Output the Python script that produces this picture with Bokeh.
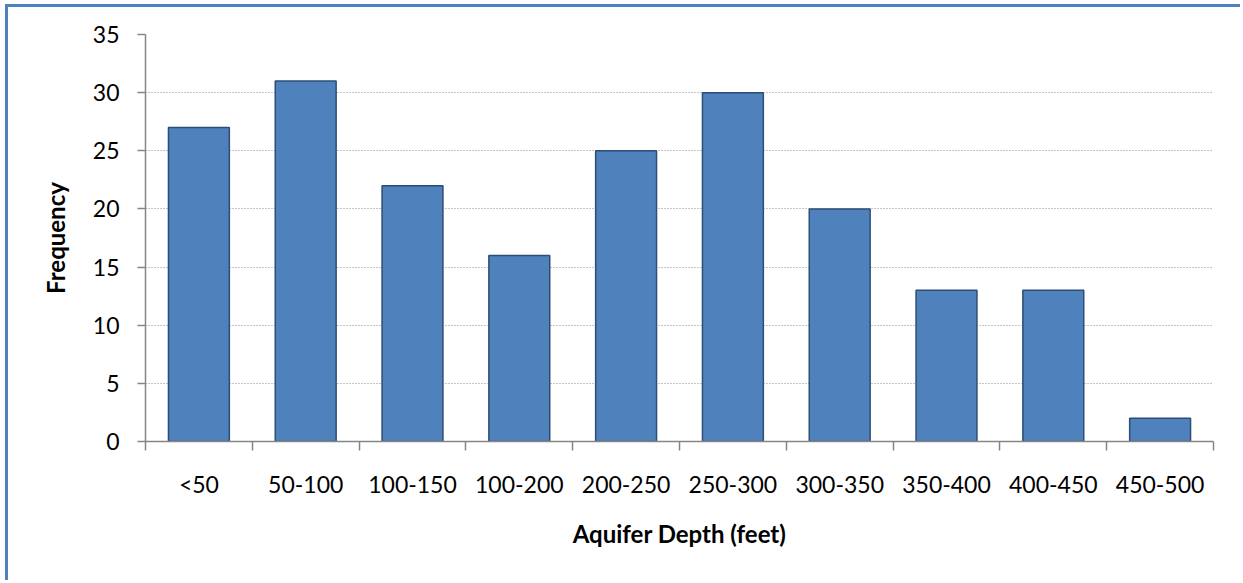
from bokeh.plotting import figure
from bokeh.models import FixedTicker, Range1d, ColumnDataSource
from bokeh.embed import file_html
from bokeh.resources import INLINE

categories = ["<50", "50-100", "100-150", "100-200", "200-250", "250-300",
              "300-350", "350-400", "400-450", "450-500"]
frequency = [27, 31, 22, 16, 25, 30, 20, 13, 13, 2]
y_ticks = [0, 5, 10, 15, 20, 25, 30, 35]

centers = [i + 0.5 for i in range(len(categories))]
src = ColumnDataSource(dict(x=centers, top=frequency, cat=categories))

p = figure(width=1235, height=576, output_backend="svg", toolbar_location=None,
           x_range=Range1d(0, len(categories)), y_range=Range1d(0, 35),
           min_border_left=137, min_border_right=30, min_border_top=27,
           min_border_bottom=142)
p.styles = {"border-left": "3px solid #4f81bd", "border-top": "3px solid #4f81bd",
            "margin-left": "5px", "margin-top": "4px"}
p.outline_line_color = None
p.background_fill_color = "white"
p.border_fill_color = "white"

p.vbar(x="x", top="top", width=0.57, bottom=0, source=src,
       fill_color="#4f81bd", line_color="#2c4d75", line_width=1.5)

FONT = "Lato"
# x axis
xa = p.xaxis[0]
xa.ticker = FixedTicker(ticks=centers, minor_ticks=list(range(len(categories) + 1)))
xa.major_label_overrides = {c: lab for c, lab in zip(centers, categories)}
xa.major_tick_line_color = None
xa.major_tick_out = 0
xa.major_tick_in = 0
xa.minor_tick_out = 9
xa.minor_tick_in = 0
xa.minor_tick_line_color = "#868686"
xa.minor_tick_line_width = 1.5
xa.axis_line_color = "#868686"
xa.axis_line_width = 1.5
xa.major_label_text_font = FONT
xa.major_label_text_font_size = "23px"
xa.major_label_text_color = "#000000"
xa.major_label_standoff = 19
xa.axis_label = "Aquifer Depth (feet)"
xa.axis_label_text_font = FONT
xa.axis_label_text_font_size = "24px"
xa.axis_label_text_font_style = "bold"
xa.axis_label_text_color = "#000000"
xa.axis_label_standoff = 18

# y axis
ya = p.yaxis[0]
ya.ticker = FixedTicker(ticks=y_ticks, minor_ticks=[])
ya.major_tick_out = 8
ya.major_tick_in = 0
ya.major_tick_line_color = "#868686"
ya.major_tick_line_width = 1.5
ya.minor_tick_line_color = None
ya.axis_line_color = "#868686"
ya.axis_line_width = 1.5
ya.major_label_text_font = FONT
ya.major_label_text_font_size = "23px"
ya.major_label_text_color = "#000000"
ya.major_label_standoff = 18
ya.axis_label = "Frequency"
ya.axis_label_text_font = FONT
ya.axis_label_text_font_size = "24px"
ya.axis_label_text_font_style = "bold"
ya.axis_label_text_color = "#000000"
ya.axis_label_standoff = 20

p.xgrid.grid_line_color = None
p.ygrid.ticker = FixedTicker(ticks=y_ticks[1:])
p.ygrid.grid_line_color = "#8a8a8a"
p.ygrid.grid_line_dash = "1 2"
p.ygrid.grid_line_width = 1.2

open("out.html", "w").write(file_html(p, INLINE))
